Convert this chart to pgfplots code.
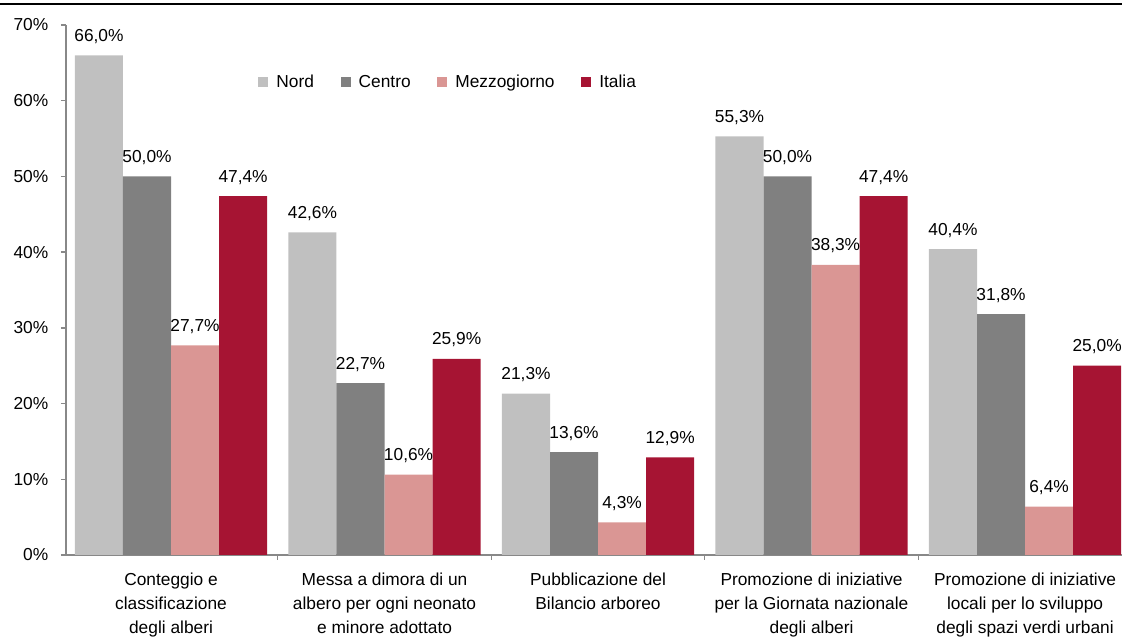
\documentclass[border=0pt]{standalone}
\usepackage{fontspec}
\setmainfont{Liberation Sans}
\usepackage{pgfplots}
\pgfplotsset{compat=1.18}
\definecolor{cnord}{HTML}{C0C0C0}
\definecolor{ccentro}{HTML}{808080}
\definecolor{cmezzo}{HTML}{DA9694}
\definecolor{citalia}{HTML}{A61433}
\definecolor{caxis}{HTML}{888888}
\newcommand{\cfont}{\fontsize{13}{18}\selectfont}
\begin{document}
\begin{tikzpicture}
\begin{axis}[
  scale only axis, width=792pt, height=397.5pt,
  xmin=-0.492, xmax=4.454, ymin=0, ymax=70,
  ybar, bar width=0.225,
  axis lines*=left,
  axis line style={caxis, line width=1pt},
  clip=false,
  tick align=outside,
  major tick length=3.75pt, minor tick length=3.75pt,
  tick style={caxis, line width=1pt},
  ytick={0,10,...,70},
  yticklabel={\pgfmathprintnumber{\tick}\%},
  yticklabel style={xshift=-6pt},
  xtick={0,1,2,3,4},
  major x tick style={draw=none},
  minor xtick={-0.5,0.5,1.5,2.5,3.5},
  xticklabels={{Conteggio e\\classificazione\\degli alberi},
               {Messa a dimora di un\\albero per ogni neonato\\e minore adottato},
               {Pubblicazione del\\Bilancio arboreo},
               {Promozione di iniziative\\per la Giornata nazionale\\degli alberi},
               {Promozione di iniziative\\locali per lo sviluppo\\degli spazi verdi urbani}},
  xticklabel style={align=center, yshift=-6pt},
  ticklabel style={font=\cfont, text=black},
  /pgf/number format/assume math mode=true,
  nodes near coords={\pgfmathprintnumber[fixed,fixed zerofill,precision=1,use comma]{\pgfplotspointmeta}\%},
  every node near coord/.append style={font=\cfont, text=black, anchor=base, inner sep=0pt, yshift=10.5pt},
  legend columns=4,
  legend style={at={(axis description cs:0.182,0.8925)}, anchor=west, draw=none, fill=none, font=\cfont,
    inner sep=0pt, /tikz/every odd column/.append style={column sep=4pt},
    /tikz/every even column/.append style={column sep=18pt}},
  legend image code/.code={\fill[#1] (0pt,-3.75pt) rectangle (7.5pt,3.75pt);},
]
\addplot[fill=cnord, draw=none, bar shift=-0.3375] coordinates {(0,66.0) (1,42.6) (2,21.3) (3,55.3) (4,40.4)};
\addplot[fill=ccentro, draw=none, bar shift=-0.1125] coordinates {(0,50.0) (1,22.7) (2,13.6) (3,50.0) (4,31.8)};
\addplot[fill=cmezzo, draw=none, bar shift=0.1125] coordinates {(0,27.7) (1,10.6) (2,4.3) (3,38.3) (4,6.4)};
\addplot[fill=citalia, draw=none, bar shift=0.3375] coordinates {(0,47.4) (1,25.9) (2,12.9) (3,47.4) (4,25.0)};
\legend{Nord,Centro,Mezzogiorno,Italia}
\draw[black, line width=1.5pt] (axis cs:-0.801,72.78) -- (axis cs:4.454,72.78);
\coordinate (BL) at (axis cs:-0.801,-10.83);
\coordinate (TR) at (axis cs:4.454,73.3);
\end{axis}
\pgfresetboundingbox
\path[use as bounding box] (BL) rectangle (TR);
\end{tikzpicture}
\end{document}
